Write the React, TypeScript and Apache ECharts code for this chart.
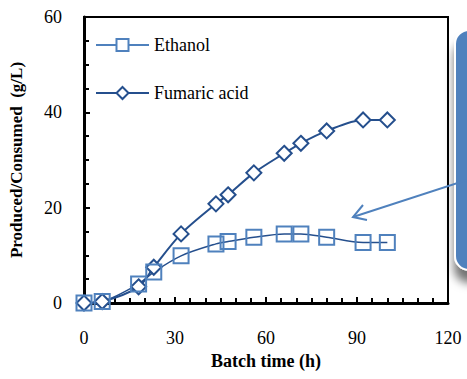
import React, { useEffect, useRef } from "react";
import * as echarts from "echarts";

const hours = [0, 6, 18, 23, 32, 43.5, 47.5, 56, 66, 71.5, 80, 92, 100];
const ethanol = [0, 0.3, 4, 6.5, 9.9, 12.4, 12.9, 13.8, 14.5, 14.5, 13.8, 12.7, 12.7];
const fumaric = [0, 0.3, 3.4, 7.5, 14.5, 20.8, 22.7, 27.3, 31.4, 33.5, 36.1, 38.4, 38.4];
const seriesNames = ["Ethanol", "Fumaric acid"];

const FONT = "Times New Roman";
const LIGHT = "#4F81BD";
const DARK = "#254F8D";

export default function App() {
  const ref = useRef<HTMLDivElement>(null);
  useEffect(() => {
    const chart = echarts.init(ref.current!, undefined, { renderer: "svg" });
    chart.setOption({
      animation: false,
      textStyle: { fontFamily: FONT },
      grid: {
        left: 84,
        top: 17,
        right: 19,
        bottom: 76,
        outerBoundsMode: "none",
        show: true,
        borderColor: "#000",
        borderWidth: 2,
        backgroundColor: "transparent",
      },
      legend: {
        orient: "vertical",
        left: 95,
        top: 36,
        padding: 0,
        itemGap: 30,
        itemWidth: 53,
        itemHeight: 15,
        textStyle: { fontFamily: FONT, fontSize: 18, color: "#000" },
        data: [
          { name: seriesNames[0], lineStyle: { color: LIGHT }, itemStyle: { color: "#fff", borderColor: LIGHT } },
          { name: seriesNames[1], lineStyle: { color: DARK }, itemStyle: { color: "#fff", borderColor: DARK } },
        ],
      },
      xAxis: {
        type: "value",
        min: 0,
        max: 120,
        interval: 30,
        name: "Batch time (h)",
        nameLocation: "middle",
        nameGap: 49,
        nameTextStyle: { fontFamily: FONT, fontSize: 18, fontWeight: "bold", color: "#000" },
        axisLine: { show: true, lineStyle: { color: "#000", width: 3 } },
        axisTick: { show: true, inside: true, length: 6, lineStyle: { color: "#000", width: 2 } },
        minorTick: { show: true, splitNumber: 6, length: 5, lineStyle: { color: "#000", width: 2 } },
        axisLabel: { fontFamily: FONT, fontSize: 18, color: "#000", margin: 26 },
        splitLine: { show: false },
      },
      yAxis: {
        type: "value",
        min: 0,
        max: 60,
        interval: 20,
        name: "Produced/Consumed  (g/L)",
        nameLocation: "middle",
        nameGap: 59,
        nameTextStyle: { fontFamily: FONT, fontSize: 17, fontWeight: "bold", color: "#000" },
        axisLine: { show: true, lineStyle: { color: "#000", width: 3 } },
        axisTick: { show: true, inside: true, length: 6, lineStyle: { color: "#000", width: 2 } },
        minorTick: { show: true, splitNumber: 4, length: 5, lineStyle: { color: "#000", width: 2 } },
        axisLabel: { fontFamily: FONT, fontSize: 18, color: "#000", margin: 22 },
        splitLine: { show: false },
      },
      series: [
        {
          name: seriesNames[1],
          type: "line",
          smooth: 0.3,
          data: hours.map((h, i) => [h, fumaric[i]]),
          symbol: "diamond",
          symbolSize: 15,
          lineStyle: { color: DARK, width: 2 },
          itemStyle: { color: "#fff", borderColor: DARK, borderWidth: 2 },
        },
        {
          name: seriesNames[0],
          type: "line",
          smooth: 0.3,
          data: hours.map((h, i) => [h, ethanol[i]]),
          symbol: "rect",
          symbolSize: 15,
          lineStyle: { color: DARK, width: 1.5 },
          itemStyle: { color: "rgba(255,255,255,0)", borderColor: LIGHT, borderWidth: 2 },
        },
      ],
      graphic: [
        {
          type: "rect",
          shape: { x: 455, y: 30, width: 40, height: 240, r: 14 },
          style: {
            fill: LIGHT,
            stroke: "#fff",
            lineWidth: 2,
            shadowColor: "rgba(0,0,0,0.55)",
            shadowBlur: 10,
            shadowOffsetY: 12,
          },
          z: 100,
        },
        {
          type: "line",
          shape: { x1: 467, y1: 180, x2: 353, y2: 217 },
          style: { stroke: LIGHT, lineWidth: 2 },
          z: 101,
        },
        {
          type: "polyline",
          shape: { points: [[363, 205], [353, 217], [367, 220]] },
          style: { stroke: LIGHT, lineWidth: 2, fill: "none" },
          z: 101,
        },
      ],
    });
    return () => chart.dispose();
  }, []);
  return (
    <div
      ref={ref}
      style={{ position: "fixed", left: 0, top: 0, width: 467, height: 379, background: "#fff" }}
    />
  );
}
